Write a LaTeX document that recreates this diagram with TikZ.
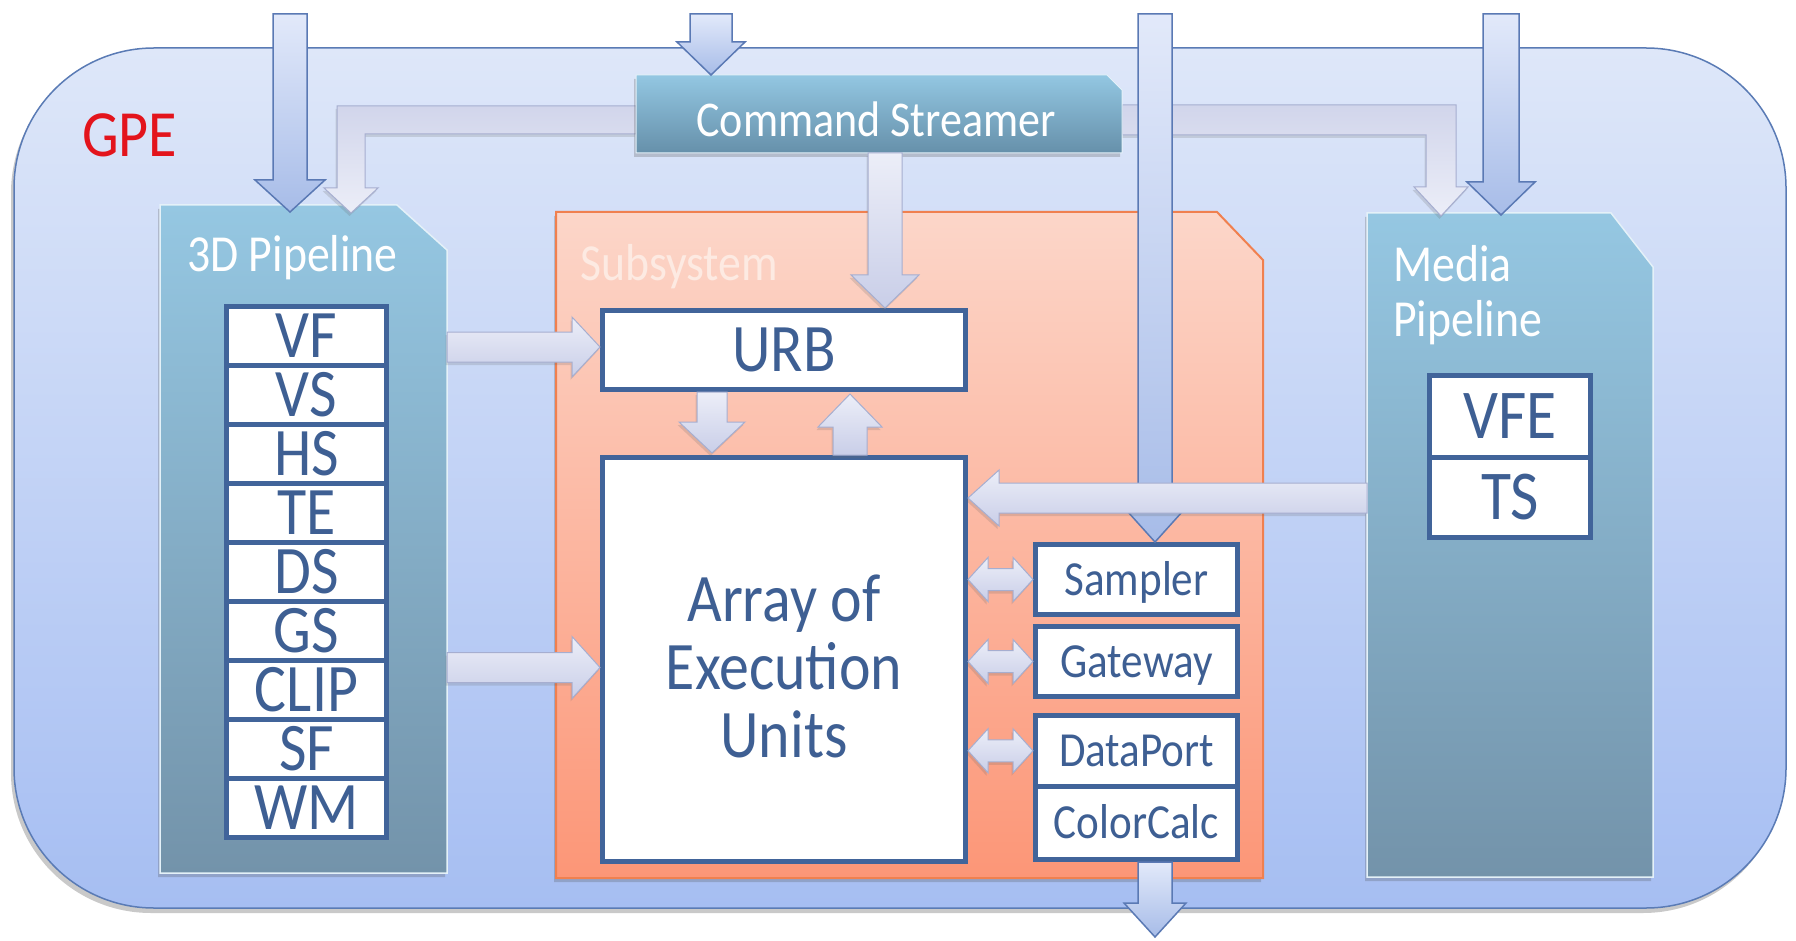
\documentclass[tikz,border=0pt]{standalone}
\usepackage{fontspec}
\setmainfont[FakeStretch=0.88]{Carlito}
\usetikzlibrary{calc,shadows}

\definecolor{boxblue}{HTML}{41649A}
\definecolor{txtblue}{HTML}{3E5F93}
\definecolor{gpered}{HTML}{E3141C}
\definecolor{outtop}{HTML}{DEE7F9}
\definecolor{outbot}{HTML}{A6BEF2}
\definecolor{outline}{HTML}{5A7BB5}
\definecolor{pantop}{HTML}{95C7E2}
\definecolor{panbot}{HTML}{7393AA}
\definecolor{cstop}{HTML}{93C7E2}
\definecolor{csbot}{HTML}{6690AA}
\definecolor{subtop}{HTML}{FCD6C9}
\definecolor{subbot}{HTML}{FC9677}
\definecolor{subline}{HTML}{F0804F}
\definecolor{subtxt}{HTML}{FDEAE2}
\definecolor{bluetop}{HTML}{E2E9FA}
\definecolor{bluebot}{HTML}{A7BCE8}
\definecolor{blueline}{HTML}{5A79B4}
\definecolor{lavtop}{HTML}{ECEEF8}
\definecolor{lavbot}{HTML}{C9CEE8}
\definecolor{lavband}{HTML}{D1D5EB}
\definecolor{lavline}{HTML}{A6AED0}

\newcommand\fsz[1]{\fontsize{#1}{#1}\selectfont}

% block arrow: style, from, to, shaft half, head half, head length
\newcommand\blockarrow[6]{%
  \path[#1] let \p1=(#2), \p2=(#3), \n1={veclen(\x2-\x1,\y2-\y1)}, \n2={atan2(\y2-\y1,\x2-\x1)} in
    [shift={(\x1,\y1)}, rotate=\n2]
    (0pt,#4pt) -- ({\n1-#6pt},#4pt) -- ({\n1-#6pt},#5pt) -- (\n1,0pt) -- ({\n1-#6pt},-#5pt) -- ({\n1-#6pt},-#4pt) -- (0pt,-#4pt) -- cycle;
}
% double block arrow
\newcommand\dblarrow[6]{%
  \path[#1] let \p1=(#2), \p2=(#3), \n1={veclen(\x2-\x1,\y2-\y1)}, \n2={atan2(\y2-\y1,\x2-\x1)} in
    [shift={(\x1,\y1)}, rotate=\n2]
    (0pt,0pt) -- (#6pt,#5pt) -- (#6pt,#4pt) -- ({\n1-#6pt},#4pt) -- ({\n1-#6pt},#5pt) -- (\n1,0pt) -- ({\n1-#6pt},-#5pt) -- ({\n1-#6pt},-#4pt) -- (#6pt,-#4pt) -- (#6pt,-#5pt) -- cycle;
}

\tikzset{
  outer/.style={top color=outtop, bottom color=outbot, draw=outline, line width=1.5pt,
    drop shadow={shadow xshift=-3pt, shadow yshift=-5pt, opacity=0.3, fill=black!70}},
  panel/.style={top color=pantop, bottom color=panbot, draw=white!75!pantop, line width=1.5pt,
    drop shadow={shadow xshift=-2pt, shadow yshift=-4pt, opacity=0.25, fill=black!70}},
  cspanel/.style={top color=cstop, bottom color=csbot, draw=white!75!cstop, line width=1pt,
    drop shadow={shadow xshift=-2pt, shadow yshift=-4pt, opacity=0.25, fill=black!70}},
  subpanel/.style={top color=subtop, bottom color=subbot, draw=subline, line width=2pt,
    drop shadow={shadow xshift=-2pt, shadow yshift=-4pt, opacity=0.25, fill=black!70}},
  anchorbox/.style={inner sep=0pt, outer sep=0pt},
  wbox/.style={draw=boxblue, line width=5pt, fill=white, inner sep=0pt, text=txtblue},
  bigtxt/.style={font=\fsz{68}, text height=43pt, text depth=0pt},
  medtxt/.style={font=\fsz{70}, text height=44pt, text depth=0pt},
  smalltxt/.style={font=\fsz{49}, text height=31pt, text depth=0pt},
  paneltxt/.style={anchor=base west, font=\fsz{52}, text=white, inner sep=0pt},
  bluearr/.style={draw=blueline, line width=1.5pt, top color=bluetop, bottom color=bluebot},
  lavarr/.style={draw=lavline, line width=1pt, top color=lavtop, bottom color=lavbot,
    drop shadow={shadow xshift=-1.5pt, shadow yshift=-3pt, opacity=0.2, fill=black!60}},
  lavL/.style={draw=lavline, line width=1pt, top color=lavband, bottom color=lavtop,
    drop shadow={shadow xshift=-1.5pt, shadow yshift=-3pt, opacity=0.2, fill=black!60}},
}

\begin{document}
\begin{tikzpicture}[x=1pt,y=-1pt]
\useasboundingbox (0,0) rectangle (1796,941);

% ---- anchor nodes for the large shapes
\node[anchorbox, minimum width=1772, minimum height=860] (gpe) at (900,478) {};
\node[anchorbox, minimum width=287, minimum height=668] (p3d) at (303.5,539) {};
\node[anchorbox, minimum width=707, minimum height=666] (sub) at (909.5,545) {};
\node[anchorbox, minimum width=286, minimum height=664] (pmedia) at (1510,545) {};
\node[anchorbox, minimum width=486, minimum height=78] (cs) at (879,114) {};

% ---- outer GPE
\path[outer, rounded corners=140pt] (gpe.north west) rectangle (gpe.south east);
\node[anchor=base west, font=\fsz{66}, text=gpered, inner sep=0pt] (gpelbl) at (82,157) {GPE};

% ---- panels
\path[panel] (p3d.north west) -- ($(p3d.north east)+(-50,0)$) -- ($(p3d.north east)+(0,45)$)
  -- (p3d.south east) -- (p3d.south west) -- cycle;
\path[subpanel] (sub.north west) -- ($(sub.north east)+(-46,0)$) -- ($(sub.north east)+(0,48)$)
  -- (sub.south east) -- (sub.south west) -- cycle;
\path[panel] (pmedia.north west) -- ($(pmedia.north east)+(-42,0)$) -- ($(pmedia.north east)+(0,54)$)
  -- (pmedia.south east) -- (pmedia.south west) -- cycle;

\node[paneltxt] (l3d) at (187,272) {3D Pipeline};
\node[paneltxt, text=subtxt] (lsub) at (580,281) {Subsystem};
\node[paneltxt] (lmed1) at (1393,282) {Media};
\node[paneltxt] (lmed2) at (1393,336) {Pipeline};

% ---- coordinates for free ends and arrow lines
\coordinate (src3d) at (290,14);
\coordinate (srccs) at (711,14);
\coordinate (srcsam) at (1155,14);
\coordinate (srcmed) at (1501,14);
\coordinate (outb) at (1155,937);
\coordinate (c1) at (351,120);
\coordinate (c2) at (1441,120);
\coordinate (csx) at (885,0);
\coordinate (medrow) at (0,498);

% ---- L-shaped arrows from the command streamer (behind it)
\path[lavL] let \p1=(c1 -| cs.west), \p2=(c1), \p3=($(c1 |- p3d.north)+(0,8)$) in
  (\x1,\y2+14pt) -- (\x2-14pt,\y2+14pt) -- (\x2-14pt,\y3+25pt) -- (\x2-27pt,\y3+25pt) -- (\x3,\y3)
  -- (\x2+27pt,\y3+25pt) -- (\x2+14pt,\y3+25pt) -- (\x2+14pt,\y2-14pt) -- (\x1,\y2-14pt) -- cycle;
\path[lavL] let \p1=(c2 -| cs.east), \p2=(c2), \p3=($(c2 |- pmedia.north)+(0,3)$) in
  (\x1,\y2+15pt) -- (\x2+15pt,\y2+15pt) -- (\x2+15pt,\y3+29pt) -- (\x2+27pt,\y3+29pt) -- (\x3,\y3)
  -- (\x2-27pt,\y3+29pt) -- (\x2-15pt,\y3+29pt) -- (\x2-15pt,\y2-15pt) -- (\x1,\y2-15pt) -- cycle;

% ---- command streamer
\path[cspanel] (cs.north west) -- ($(cs.north east)+(-15,0)$) -- ($(cs.north east)+(0,15)$)
  -- (cs.south east) -- (cs.south west) -- cycle;
\node[anchor=base, font=\fsz{50}, text=white, inner sep=0pt] (cslbl) at (876,137) {Command Streamer};

% ---- white boxes
\foreach \t [count=\i from 0] in {VF,VS,HS,TE,DS,GS,CLIP,SF,WM}{
  \node[wbox, bigtxt, minimum width=160, minimum height=59] (st\i) at (306.5,{306.5+59*(\i+0.5)}) {\t};
}
\node[wbox, bigtxt, minimum width=363, minimum height=79] (urb) at (784,350) {URB};
\node[wbox, minimum width=363, minimum height=404] (eu) at (784,659.5) {};
\node[font=\fsz{68}, text=txtblue, align=center, inner sep=0pt] (eulbl) at (784,666)
  {\fontsize{68}{67}\selectfont Array of\\Execution\\Units};
\node[wbox, smalltxt, minimum width=202, minimum height=70] (sampler) at (1136.5,579.5) {Sampler};
\node[wbox, smalltxt, minimum width=202, minimum height=70] (gateway) at (1136.5,661.5) {Gateway};
\node[wbox, smalltxt, minimum width=202, minimum height=70.5] (dataport) at (1136.5,750.75) {DataPort};
\node[wbox, smalltxt, minimum width=202, minimum height=73.5] (colorcalc) at (1136.5,822.75) {ColorCalc};
\node[wbox, medtxt, minimum width=161, minimum height=81.5] (vfe) at (1510,416.25) {VFE};
\node[wbox, medtxt, minimum width=161, minimum height=80.5] (ts) at (1510,497.25) {TS};

% ---- blue input / output arrows
\blockarrow{bluearr}{src3d}{$(src3d |- p3d.north)+(0,7)$}{17}{35}{32}
\blockarrow{bluearr}{srccs}{srccs |- cs.north}{21}{34}{33}
\blockarrow{bluearr}{srcmed}{$(srcmed |- pmedia.north)+(0,2)$}{18}{34}{33}
\blockarrow{bluearr}{srcsam}{srcsam |- sampler.north}{17}{27}{30}
\blockarrow{bluearr}{outb |- colorcalc.south}{outb}{17}{31}{34}

% ---- internal arrows
\blockarrow{lavarr}{csx |- cs.south}{csx |- urb.north}{17}{34}{33}
\blockarrow{lavarr}{$(p3d.east |- urb.west)+(0,-3)$}{$(urb.west)+(0,-3)$}{15}{30}{28}
\blockarrow{lavarr}{$(p3d.east |- eu.west)+(0,8)$}{$(eu.west)+(0,8)$}{15}{31}{28}
\blockarrow{lavarr}{$(urb.south)+(-72,0)$}{$(eu.north)+(-72,-2)$}{15}{33}{31}
\blockarrow{lavarr}{$(eu.north)+(66,0)$}{$(urb.south)+(66,2)$}{17}{32}{33}
\blockarrow{lavarr}{pmedia.west |- medrow}{eu.east |- medrow}{15}{28}{31}
\dblarrow{lavarr}{eu.east |- sampler}{sampler.west}{11}{22}{20}
\dblarrow{lavarr}{eu.east |- gateway}{gateway.west}{11}{22}{20}
\dblarrow{lavarr}{eu.east |- dataport}{dataport.west}{11}{22}{20}
\end{tikzpicture}
\end{document}
